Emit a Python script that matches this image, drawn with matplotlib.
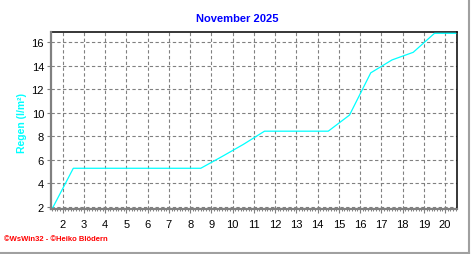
import matplotlib
matplotlib.use("Agg")
import matplotlib.pyplot as plt
from matplotlib.lines import Line2D
from matplotlib.ticker import MultipleLocator

# cumulative rain, sampled at half-day positions
days = [1.5, 2.5, 3.5, 4.5, 5.5, 6.5, 7.5, 8.5, 9.5, 10.5,
        11.5, 12.5, 13.5, 14.5, 15.5, 16.5, 17.5, 18.5, 19.5, 20.5]
rain = [1.8, 5.27, 5.27, 5.27, 5.27, 5.27, 5.27, 5.27, 6.27, 7.3,
        8.43, 8.43, 8.43, 8.43, 9.8, 13.4, 14.5, 15.15, 16.77, 16.77]
x_ticks = list(range(2, 21))
y_ticks = [2, 4, 6, 8, 10, 12, 14, 16]

plt.rcParams["font.family"] = ["Liberation Sans", "DejaVu Sans"]

fig = plt.figure(figsize=(4.72, 2.55), dpi=100)
ax = fig.add_axes([51 / 472, 45 / 255, 406 / 472, 177 / 255])
ax.set_axisbelow(True)

ax.plot(days, rain, color="#00ffff", lw=0.9, zorder=3)

ax.set_xlim(1.45, 20.56)
ax.set_ylim(1.8, 16.88)
ax.set_xticks(x_ticks)
ax.set_yticks(y_ticks)
ax.xaxis.set_minor_locator(MultipleLocator(1 / 8))

ax.grid(True, which="major", color="#808080", ls=(0, (3, 2.2)), lw=0.8)
ax.tick_params(axis="both", which="major", labelsize=8, color="#808080",
               length=3, width=0.8)
ax.tick_params(axis="x", which="major", pad=4)
ax.tick_params(axis="x", which="minor", length=1.5, width=0.7, color="#808080")
ax.tick_params(axis="y", which="major", pad=2)

for side in ("left", "bottom"):
    ax.spines[side].set_color("#808080")
    ax.spines[side].set_linewidth(1.6)
    ax.spines[side].set_zorder(4)
for side in ("top", "right"):
    ax.spines[side].set_color("black")
    ax.spines[side].set_linewidth(1.1)

fig.text(237 / 472, 1 - 19 / 255, "November 2025", color="#0000ff",
         fontsize=8, fontweight="bold", ha="center", va="center")
fig.text(22 / 472, 1 - 123 / 255, "Regen (l/m²)", color="#00ffff",
         fontsize=7.5, fontweight="bold", rotation=90, ha="center", va="center")
fig.text(4 / 472, 1 - 240 / 255, "©WsWin32 - ©Heiko Blödern", color="#ff0000",
         fontsize=5.5, fontweight="bold", ha="left", va="center")

# light frame on the right and bottom edges
fig.add_artist(Line2D([468.5 / 472, 468.5 / 472], [0, 1], color="#a0a0a0", lw=1.5))
fig.add_artist(Line2D([0, 469 / 472], [1.5 / 255, 1.5 / 255], color="#a0a0a0", lw=1.5))

fig.savefig("out.png", dpi=100, facecolor="white")
